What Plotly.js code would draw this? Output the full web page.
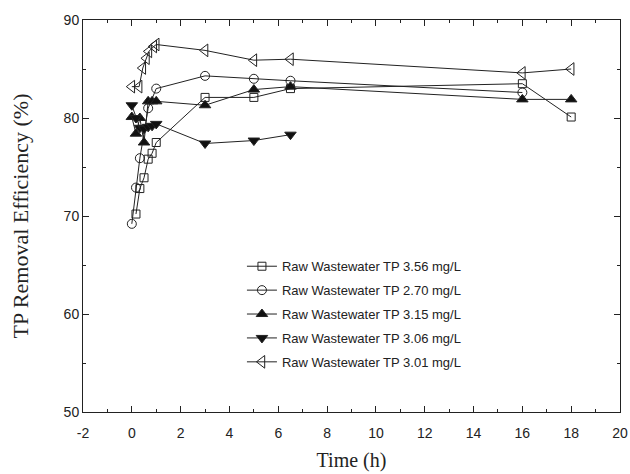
<!DOCTYPE html>
<html>
<head>
<meta charset="utf-8">
<script src="https://cdn.plot.ly/plotly-3.0.1.min.js"></script>
<style>
  html, body { margin: 0; padding: 0; background: #fff; }
  #chart { width: 630px; height: 474px; }
</style>
</head>
<body>
<div id="chart"></div>
<script>
// TP removal efficiency (%) over time (h) for five raw wastewater TP levels
const seriesNames = [
  "Raw Wastewater TP 3.56 mg/L",
  "Raw Wastewater TP 2.70 mg/L",
  "Raw Wastewater TP 3.15 mg/L",
  "Raw Wastewater TP 3.06 mg/L",
  "Raw Wastewater TP 3.01 mg/L"
];

const timeA = [0.17, 0.33, 0.5, 0.67, 0.83, 1, 3, 5, 6.5, 16, 18];
const effA  = [70.2, 72.8, 73.9, 75.8, 76.4, 77.5, 82.1, 82.1, 83.0, 83.5, 80.1];

const timeB = [0, 0.17, 0.33, 0.67, 1, 3, 5, 6.5, 16];
const effB  = [69.2, 72.9, 75.9, 81.0, 83.0, 84.3, 84.0, 83.8, 82.6];

const timeC = [0, 0.17, 0.33, 0.5, 0.67, 0.83, 1, 3, 5, 6.5, 16, 18];
const effC  = [80.1, 78.4, 80.0, 77.5, 81.7, 81.7, 81.7, 81.3, 82.9, 83.2, 81.9, 81.9];

const timeD = [0, 0.17, 0.33, 0.5, 0.67, 0.83, 1, 3, 5, 6.5];
const effD  = [81.3, 80.0, 79.0, 78.9, 79.1, 79.2, 79.4, 77.4, 77.7, 78.3];

const timeE = [0, 0.3, 0.45, 0.6, 0.7, 0.9, 1, 3, 5, 6.5, 16, 18];
const effE  = [83.2, 83.2, 85.1, 86.1, 86.8, 87.3, 87.5, 86.9, 85.9, 86.0, 84.6, 85.0];

// x tick positions and their labels (plain hyphen for negatives)
const xTickVals = [-2, 0, 2, 4, 6, 8, 10, 12, 14, 16, 18, 20];
const xTickText = ["-2", "0", "2", "4", "6", "8", "10", "12", "14", "16", "18", "20"];

const xs = [timeA, timeB, timeC, timeD, timeE];
const ys = [effA, effB, effC, effD, effE];
const symbols = ["square-open", "circle-open", "triangle-up", "triangle-down", "triangle-left-open"];
const sizes = [8, 9, 10, 10, 11];

const traces = xs.map((x, i) => ({
  x: x,
  y: ys[i],
  name: seriesNames[i],
  legendgroup: "g" + i,
  type: "scatter",
  mode: "lines+markers",
  line: { color: "#222", width: 1 },
  marker: {
    symbol: symbols[i],
    size: sizes[i],
    color: i === 2 || i === 3 ? "#111" : "#222",
    line: { color: "#222", width: 1 }
  },
  cliponaxis: false
}));

const tickFont = { family: "Liberation Sans, Arial, sans-serif", size: 14, color: "#222" };
const legendFont = { family: "Liberation Sans, Arial, sans-serif", size: 13, color: "#222" };

const layout = {
  width: 630,
  height: 474,
  margin: { l: 83, r: 10, t: 20, b: 62 },
  paper_bgcolor: "#fff",
  plot_bgcolor: "#fff",
  showlegend: true,
  legend: {
    x: 0.296, y: 0.41, xanchor: "left", yanchor: "top",
    font: legendFont,
    bgcolor: "rgba(0,0,0,0)",
    tracegroupgap: 4,
    traceorder: "grouped"
  },
  xaxis: {
    range: [-2, 20],
    tickmode: "array",
    tickvals: xTickVals,
    ticktext: xTickText,
    ticks: "inside",
    ticklen: 6,
    tickcolor: "#222",
    ticklabelstandoff: 8,
    showline: true,
    linecolor: "#222",
    linewidth: 1,
    mirror: "ticks",
    showgrid: false,
    zeroline: false,
    tickfont: tickFont,
    minor: { dtick: 1, tick0: 0, ticks: "inside", ticklen: 3, tickcolor: "#222", showgrid: false },
    title: { text: "Time (h)", font: { family: "Liberation Serif, Times New Roman, serif", size: 20, color: "#222" }, standoff: 13 }
  },
  yaxis: {
    range: [50, 90],
    dtick: 10,
    ticks: "inside",
    ticklen: 6,
    tickcolor: "#222",
    showline: true,
    linecolor: "#222",
    linewidth: 1,
    mirror: "ticks",
    showgrid: false,
    zeroline: false,
    tickfont: tickFont,
    minor: { dtick: 5, ticks: "inside", ticklen: 3, tickcolor: "#222", showgrid: false },
    title: { text: "TP Removal Efficiency (%)", font: { family: "Liberation Serif, Times New Roman, serif", size: 22, color: "#222" }, standoff: 28 }
  }
};

Plotly.newPlot("chart", traces, layout, { displayModeBar: false, staticPlot: true });
</script>
</body>
</html>
